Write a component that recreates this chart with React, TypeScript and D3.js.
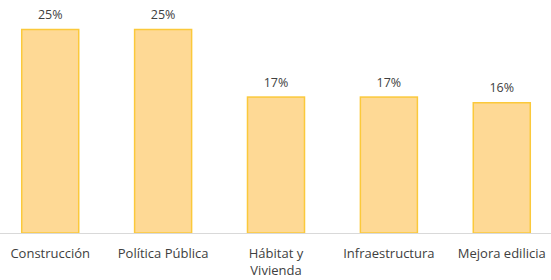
import React, { useEffect, useRef } from 'react';
import * as d3 from 'd3';

const categories = ['Construcción', 'Política Pública', 'Hábitat y Vivienda', 'Infraestructura', 'Mejora edilicia'];
const values = [25, 25, 16.7, 16.7, 16];
const valueLabels = ['25%', '25%', '17%', '17%', '16%'];

const width = 551;
const height = 280;

export default function App() {
  const svgRef = useRef<SVGSVGElement>(null);

  useEffect(() => {
    const svg = d3.select(svgRef.current);
    svg.selectAll('*').remove();

    const baseline = 233;
    const x = d3.scaleBand()
      .domain(categories)
      .range([-6.5, 558.5])
      .paddingInner(0.495)
      .paddingOuter(0.25);

    const y = d3.scaleLinear()
      .domain([0, 25])
      .range([baseline, 29.5]);

    const data = categories.map((c, i) => ({ c, v: values[i], label: valueLabels[i] }));

    // bars
    svg.selectAll('rect.bar')
      .data(data)
      .enter()
      .append('rect')
      .attr('class', 'bar')
      .attr('x', d => x(d.c)!)
      .attr('y', d => y(d.v))
      .attr('width', x.bandwidth())
      .attr('height', d => baseline - y(d.v))
      .attr('fill', '#FED995')
      .attr('stroke', '#FBC93B')
      .attr('stroke-width', 1.5);

    // axis line
    svg.append('line')
      .attr('x1', 0)
      .attr('x2', width)
      .attr('y1', baseline + 0.5)
      .attr('y2', baseline + 0.5)
      .attr('stroke', '#D9D9D9')
      .attr('stroke-width', 1);

    // value labels
    svg.selectAll('text.val')
      .data(data)
      .enter()
      .append('text')
      .attr('class', 'val')
      .attr('x', d => x(d.c)! + x.bandwidth() / 2)
      .attr('y', d => y(d.v) - 10.5)
      .attr('text-anchor', 'middle')
      .attr('font-family', 'Open Sans, sans-serif')
      .attr('font-size', 12.5)
      .attr('fill', '#404040')
      .text(d => d.label);

    // category labels (wrap "Hábitat y Vivienda")
    data.forEach(d => {
      const lines = d.c === 'Hábitat y Vivienda' ? ['Hábitat y', 'Vivienda'] : [d.c];
      const t = svg.append('text')
        .attr('x', x(d.c)! + x.bandwidth() / 2)
        .attr('y', 258)
        .attr('text-anchor', 'middle')
        .attr('font-family', 'Open Sans, sans-serif')
        .attr('font-size', 13)
        .attr('fill', '#404040');
      lines.forEach((l, i) => {
        t.append('tspan')
          .attr('x', x(d.c)! + x.bandwidth() / 2)
          .attr('dy', i === 0 ? 0 : 17)
          .text(l);
      });
    });
  }, []);

  return (
    <svg
      ref={svgRef}
      width={width}
      height={height}
      style={{ position: 'absolute', left: 0, top: 0, background: '#fff' }}
    />
  );
}
